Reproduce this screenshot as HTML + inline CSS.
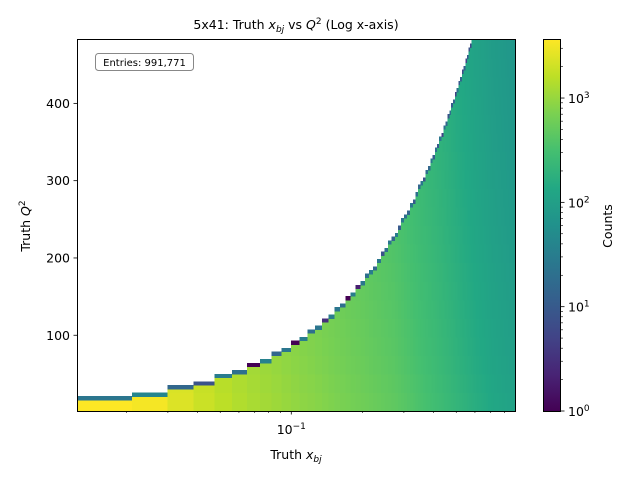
<!DOCTYPE html>
<html><head><meta charset="utf-8">
<style>
html,body{margin:0;padding:0;background:#fff;}
svg{display:block;font-family:"DejaVu Sans","Liberation Sans",sans-serif;}
</style></head>
<body>
<svg id="chart" width="640" height="480" viewBox="0 0 640 480" xmlns="http://www.w3.org/2000/svg">
  <text x="296" y="29" font-size="12.5" text-anchor="middle">5x41: Truth <tspan font-style="italic">x</tspan><tspan font-style="italic" font-size="9" dy="3">bj</tspan><tspan dy="-3"> vs </tspan><tspan font-style="italic">Q</tspan><tspan font-size="9" dy="-5">2</tspan><tspan dy="5"> (Log x-axis)</tspan></text>
  <g id="cells" shape-rendering="crispEdges"></g>
  <rect x="77.5" y="39.5" width="438" height="372" fill="none" stroke="#000" stroke-width="1"/>
  <g id="xaxis"></g>
  <g id="yaxis"></g>
  <text x="296" y="459" font-size="12.5" text-anchor="middle">Truth <tspan font-style="italic">x</tspan><tspan font-style="italic" font-size="9" dy="3">bj</tspan></text>
  <text transform="translate(30,226) rotate(-90)" font-size="12.5" text-anchor="middle">Truth <tspan font-style="italic">Q</tspan><tspan font-size="9" dy="-5">2</tspan></text>
  <g>
    <rect x="95.5" y="53.5" width="98" height="17" rx="3" fill="#fff" stroke="#888" stroke-width="1"/>
    <text x="144.5" y="66" font-size="10" text-anchor="middle">Entries: 991,771</text>
  </g>
  <defs>
    <linearGradient id="vir" x1="0" y1="1" x2="0" y2="0">
      <stop offset="0" stop-color="#440154"/><stop offset="0.1" stop-color="#482475"/>
      <stop offset="0.2" stop-color="#414487"/><stop offset="0.3" stop-color="#355f8d"/>
      <stop offset="0.4" stop-color="#2a788e"/><stop offset="0.5" stop-color="#21918c"/>
      <stop offset="0.6" stop-color="#22a884"/><stop offset="0.7" stop-color="#44bf70"/>
      <stop offset="0.8" stop-color="#7ad151"/><stop offset="0.9" stop-color="#bddf26"/>
      <stop offset="1" stop-color="#fde725"/>
    </linearGradient>
  </defs>
  <rect x="543.5" y="39.5" width="17" height="372" fill="url(#vir)" stroke="#000" stroke-width="1"/>
  <g id="cbaxis"></g>
  <text transform="translate(612,226) rotate(-90)" font-size="12.5" text-anchor="middle">Counts</text>
</svg>
<script>
// ---- data ----
const xBinCount = 100;
const xMin = 0.01236, xMax = 0.887;
const yMin = 2, yMax = 482;
const yBinCount = 100;
// upper Q2 boundary per x bin
const colMaxQ2 = [17,24,32,39,46,53,60,67,75,82,89,96,103,110,118,125,132,139,146,153,
 161,168,175,182,189,196,204,211,218,225,232,239,247,254,261,268,275,282,290,297,
 304,311,318,325,333,340,347,354,361,368,376,383,390,397,404,411,419,426,433,440,
 447,454,462,469,476,483,490,498,505,512,519,526,534,541,548,555,562,570,577,584,
 591,598,605,612,620,627,634,641,648,656,663,670,677,684,692,699,706,713,720,727];
// typical counts per x bin
const colCounts = [3500,2600,1900,1500,1250,1100,1000,920,860,800,750,710,680,650,620,590,565,545,525,505,
 490,475,460,445,432,420,408,398,388,378,365,352,340,328,316,305,295,285,276,268,
 260,252,245,238,231,225,219,213,207,201,196,191,186,181,176,171,167,163,159,155,
 151,148,145,142,139,136,133,130,128,126,124,122,120,118,116,114,112,110,108,106,
 104,103,102,101,100,99,98,97,96,95,94,93,92,91,90,89,88,87,86,85];
// counts in the top (partially filled) bin of each column
const edgeCounts = [25,40,15,8,30,20,1,35,15,25,1,30,20,25,3,30,25,20,1,30,
 2,25,20,30,15,25,8,20,25,15,30,10,25,20,15,25,10,20,15,25,8,20,15,25,12,20,10,25,5,20,
 15,8,20,10,15,5,20,10,15,6,12,5,10,8,6,4];
// relative level per group of 5 Q2 bins (low Q2 -> high Q2)
const rowFactor = [1.25,1.2,1.15,1.12,1.1,1.07,1.05,1.03,1.0,0.98,0.96,0.95,0.93,0.92,0.9,0.89,0.88,0.87,0.86,0.85];
const yTicks = [100,200,300,400];
const cTicks = [0,1,2,3];
const vMax = 3600;

// ---- scales ----
const PX0=77, PX1=515, PY0=411, PY1=40;
const lx0=Math.log10(xMin), lx1=Math.log10(xMax);
const sx = x => PX0 + (Math.log10(x)-lx0)/(lx1-lx0)*(PX1-PX0);
const sy = q => PY0 - (q-yMin)/(yMax-yMin)*(PY0-PY1);
const CB0=411, CB1=40, cbMaxLog=Math.log10(vMax);
const sc = v => CB0 - v/cbMaxLog*(CB0-CB1);

const vir=[[68,1,84],[72,36,117],[65,68,135],[53,95,141],[42,120,142],[33,145,140],[34,168,132],[68,191,112],[122,209,81],[189,223,38],[253,231,37]];
function color(v){
  let t=Math.max(0,Math.min(1,Math.log10(Math.max(v,1))/cbMaxLog));
  const f=t*(vir.length-1), i=Math.min(vir.length-2,Math.floor(f)), r=f-i;
  const c=vir[i].map((a,k)=>Math.round(a+(vir[i+1][k]-a)*r));
  return `rgb(${c[0]},${c[1]},${c[2]})`;
}
const NS="http://www.w3.org/2000/svg";
function mk(tag,attrs,parent){const e=document.createElementNS(NS,tag);for(const k in attrs)e.setAttribute(k,attrs[k]);parent.appendChild(e);return e;}

// ---- cells ----
const cells=document.getElementById('cells');
const xw=(xMax-xMin)/xBinCount, yh=(yMax-yMin)/yBinCount;
for(let i=0;i<xBinCount;i++){
  const x0=xMin+i*xw, x1=x0+xw;
  const topBin=Math.min(yBinCount-1,Math.floor((colMaxQ2[i]-yMin)/yh));
  const left=sx(x0), right=sx(x1);
  for(let j=0;j<=topBin;j++){
    let v=colCounts[i]*rowFactor[Math.floor(j/5)];
    if(j===topBin && colMaxQ2[i]<yMax && i<edgeCounts.length) v=edgeCounts[i];
    const q0=yMin+j*yh, q1=q0+yh;
    const r=mk('rect',{x:left.toFixed(2),y:sy(q1).toFixed(2),width:(right-left+0.6).toFixed(2),height:(sy(q0)-sy(q1)+0.6).toFixed(2),fill:color(v)},cells);
    
    
  }
}
// ---- x axis ----
const xa=document.getElementById('xaxis');
for(let m=1;m<=9;m++){
  for(const d of [0.01,0.1]){
    const v=m*d; if(v<xMin||v>xMax) continue;
    const px=sx(v), major=(m===1);
    const t=mk('line',{x1:px,x2:px,y1:411,y2:411+(major?3.5:2),stroke:'#000','stroke-width':major?0.8:0.6},xa);
    
    
    if(major){
      const tx=mk('text',{x:px,y:434,'font-size':12.5,'text-anchor':'middle'},xa);
      
      
      tx.innerHTML='10<tspan font-size="9" dy="-5">−1</tspan>';
    }
  }
}
// ---- y axis ----
const ya=document.getElementById('yaxis');
yTicks.forEach(v=>{
  const py=sy(v);
  const t=mk('line',{x1:73.5,x2:77,y1:py,y2:py,stroke:'#000','stroke-width':0.8},ya);
  
  
  const tx=mk('text',{x:70,y:py+4.5,'font-size':12.5,'text-anchor':'end'},ya);
  
  
  tx.textContent=v;
});
// ---- colorbar axis ----
const ca=document.getElementById('cbaxis');
cTicks.forEach(p=>{
  const py=sc(p);
  const t=mk('line',{x1:561,x2:564.5,y1:py,y2:py,stroke:'#000','stroke-width':0.8},ca);
  
  
  const tx=mk('text',{x:568,y:py+5,'font-size':12.5},ca);
  
  
  tx.innerHTML='10<tspan font-size="9" dy="-5">'+p+'</tspan>';
  for(let m=2;m<=9;m++){
    const lv=p+Math.log10(m); if(lv>cbMaxLog) break;
    const mt=mk('line',{x1:561,x2:563,y1:sc(lv),y2:sc(lv),stroke:'#000','stroke-width':0.6},ca);
    
    
  }
});
</script>
</body></html>
